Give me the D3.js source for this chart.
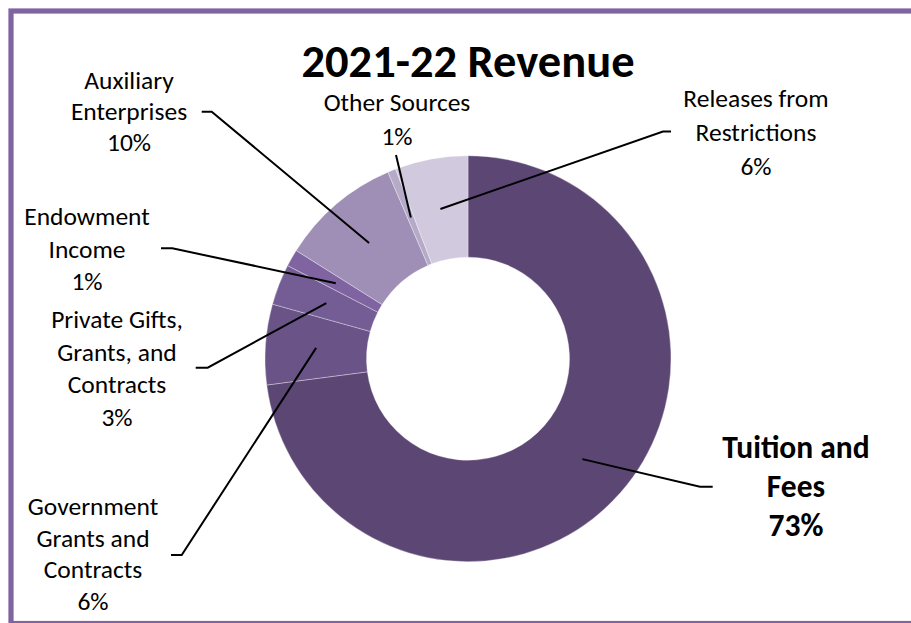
<!DOCTYPE html>
<html>
<head>
<meta charset="utf-8">
<title>2021-22 Revenue</title>
<script src="https://d3js.org/d3.v7.min.js"></script>
<style>
  html, body { margin:0; padding:0; background:#fff; }
  svg { display:block; }
  text { font-family: Calibri, Carlito, Lato, sans-serif; fill:#000; }
</style>
</head>
<body>
<script>
// data (share of revenue, %)
var categories = ["Tuition and Fees", "Government Grants and Contracts", "Private Gifts, Grants, and Contracts",
                  "Endowment Income", "Auxiliary Enterprises", "Other Sources", "Releases from Restrictions"];
var values = [72.9, 6.4, 3.25, 1.36, 9.6, 0.65, 5.8];
var labelLines = [["Tuition and", "Fees"], ["Government", "Grants and", "Contracts"], ["Private Gifts,", "Grants, and", "Contracts"],
                  ["Endowment", "Income"], ["Auxiliary", "Enterprises"], ["Other Sources"], ["Releases from", "Restrictions"]];
var colors = ["#5c4674", "#695387", "#745d95", "#7f64a1", "#9f8fb6", "#b6aac9", "#d1c9dd"];
var title = "2021-22 Revenue";

// where each label sits (x centre, first baseline, leader elbow, leader end)
var labelPos = [
  {x:796, y:458, lh:39, bold:true, elbow:[700,486.7], end:[712.7,486.7]},
  {x:93,  y:515, lh:31.7, elbow:[181.7,555], end:[171,555]},
  {x:117, y:328.3, lh:32.5, elbow:[207.7,367.7], end:[195.7,367.7]},
  {x:87,  y:225, lh:32.5, elbow:[172.3,248.3], end:[161,248.3]},
  {x:129, y:89, lh:31, elbow:[211.7,111.7], end:[201.7,111.7]},
  {x:397, y:111, lh:34, elbow:[396,155], end:[396,155]},
  {x:756, y:107, lh:34, elbow:[663,131.5], end:[671,131.5]}
];

var width = 911, height = 623;
var cx = 468, cy = 358.7, outerR = 203, innerR = 101.5;

var svg = d3.select('body').append('svg')
            .attr('width', width)
            .attr('height', height);

// purple frame, runs off the right and bottom edges
svg.append('rect')
   .attr('x', 11).attr('y', 11)
   .attr('width', 1000).attr('height', 612.5)
   .attr('fill', 'none')
   .attr('stroke', '#8064a2')
   .attr('stroke-width', 5.2);

svg.append('text')
   .attr('x', cx).attr('y', 77)
   .attr('text-anchor', 'middle')
   .style('font-size', '46.5px')
   .style('font-weight', 'bold')
   .text(title);

var total = d3.sum(values);
var pie = d3.pie().sort(null).value(function(d){ return d; });
var arc = d3.arc().innerRadius(innerR).outerRadius(outerR);
var arcs = pie(values);

var g = svg.append('g').attr('transform', 'translate(' + [cx, cy] + ')');

g.selectAll('path')
 .data(arcs)
 .enter().append('path')
 .attr('d', arc)
 .attr('fill', function(d, i){ return colors[i]; })
 .attr('stroke', '#fff')
 .attr('stroke-opacity', 0.55)
 .attr('stroke-width', 0.6);

// leader lines: from slice centroid to elbow, then a short flat end
svg.selectAll('.leader')
   .data(arcs)
   .enter().append('polyline')
   .attr('class', 'leader')
   .attr('fill', 'none')
   .attr('stroke', '#000')
   .attr('stroke-width', 2)
   .attr('points', function(d, i) {
     var c = arc.centroid(d);
     var p = labelPos[i];
     return [[cx + c[0], cy + c[1]], p.elbow, p.end].join(' ');
   });

var labels = svg.selectAll('.lab')
   .data(arcs)
   .enter().append('text')
   .attr('class', 'lab')
   .attr('text-anchor', 'middle')
   .style('font-size', function(d, i){ return labelPos[i].bold ? '31.5px' : '25.5px'; })
   .style('font-weight', function(d, i){ return labelPos[i].bold ? 'bold' : 'normal'; });

labels.each(function(d, i) {
  var p = labelPos[i];
  var lines = labelLines[i].concat([Math.round(d.data / total * 100) + '%']);
  d3.select(this).selectAll('tspan')
    .data(lines)
    .enter().append('tspan')
    .attr('x', p.x)
    .attr('y', function(t, k){ return p.y + k * p.lh; })
    .text(function(t){ return t; });
});
</script>
</body>
</html>
